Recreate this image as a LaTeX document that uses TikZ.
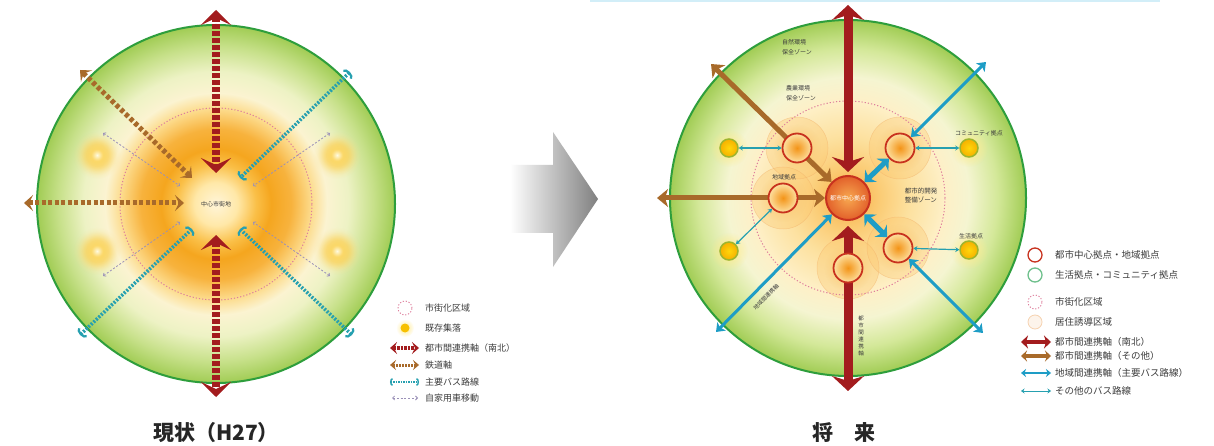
\documentclass[tikz,border=0pt]{standalone}
\usepackage{fontspec}
\newfontfamily\jp{Noto Sans CJK JP}
\usetikzlibrary{arrows.meta,fadings}
\pgfdeclarelayer{bg}
\pgfdeclarelayer{lines}
\pgfsetlayers{bg,lines,main}
\definecolor{gborder}{HTML}{2E9E3C}
\definecolor{axred}{HTML}{A31C1E}
\definecolor{axbrown}{HTML}{A86A2A}
\definecolor{axcyan}{HTML}{1E9DC6}
\definecolor{axteal}{HTML}{26A0B0}
\definecolor{cargray}{HTML}{9A90B8}
\definecolor{pinkdot}{HTML}{DE7E9C}
\definecolor{ringred}{HTML}{C8321E}
\definecolor{commgreen}{HTML}{9DB52E}
\definecolor{txt}{HTML}{3C3C3C}
\definecolor{peach}{HTML}{F6D2B0}
\definecolor{regin}{HTML}{F39418}
\definecolor{regout}{HTML}{FDE0A0}
\definecolor{cin}{HTML}{F7A850}
\definecolor{cout}{HTML}{E2602A}
\definecolor{commin}{HTML}{FFD60A}
\definecolor{commout}{HTML}{F5B000}
\definecolor{regglow}{HTML}{FBC875}
\definecolor{commglow}{HTML}{FFEB8A}
\definecolor{flowerfill}{HTML}{FCC870}
\definecolor{flowerline}{HTML}{F2AE66}
\definecolor{topcyan}{HTML}{D2EEF8}
\pgfdeclareradialshading{leftball}{\pgfpoint{0bp}{0bp}}{rgb(0bp)=(1,0.96,0.85); rgb(3bp)=(1,0.91,0.66); rgb(5.6bp)=(0.98,0.75,0.28); rgb(7.7bp)=(0.96,0.65,0.12); rgb(10.5bp)=(0.97,0.70,0.24); rgb(13.3bp)=(0.99,0.86,0.55); rgb(15.5bp)=(0.985,0.955,0.82); rgb(18.5bp)=(0.93,0.95,0.77); rgb(22bp)=(0.78,0.88,0.54); rgb(25bp)=(0.63,0.80,0.33); rgb(50bp)=(0.63,0.80,0.33)}
\pgfdeclareradialshading{rightball}{\pgfpoint{0bp}{0bp}}{rgb(0bp)=(0.97,0.68,0.27); rgb(4.5bp)=(0.985,0.80,0.46); rgb(8.5bp)=(0.99,0.88,0.62); rgb(13.6bp)=(0.995,0.94,0.78); rgb(17bp)=(0.96,0.96,0.82); rgb(21bp)=(0.83,0.91,0.60); rgb(25bp)=(0.63,0.80,0.33); rgb(50bp)=(0.63,0.80,0.33)}
\pgfdeclareradialshading{ringyel}{\pgfpoint{0bp}{0bp}}{rgb(0bp)=(1,0.98,0.88); rgb(7bp)=(0.99,0.84,0.38); rgb(14bp)=(0.99,0.82,0.34); rgb(25bp)=(0.99,0.9,0.6); rgb(50bp)=(0.99,0.9,0.6)}
\tikzfading[name=glowfade, inner color=transparent!0, outer color=transparent!100]
\tikzset{
  chevR/.tip={Stealth[length=15pt,width=30pt,inset=7pt]},
  chevB/.tip={Stealth[length=9pt,width=16pt,inset=4pt]},
  arcC/.tip={Arc Barb[length=4pt,width=13pt,line width=2.2pt]},
  smallB/.tip={Straight Barb[length=2pt,width=4pt,line width=.8pt]},
  headR/.tip={Stealth[length=15pt,width=32pt,inset=5pt]},
  headB/.tip={Stealth[length=11pt,width=18pt,inset=3pt]},
  headC/.tip={Stealth[length=8pt,width=12pt,inset=2pt]},
  headCC/.tip={Stealth[length=9pt,width=17pt,inset=3pt]},
  headT/.tip={Stealth[length=4pt,width=5pt]},
  lgR/.tip={Stealth[length=7pt,width=12pt,inset=3pt]},
  lgB/.tip={Stealth[length=6pt,width=10pt,inset=2.5pt]},
  lgC/.tip={Arc Barb[length=2.5pt,width=8pt,line width=1.4pt]},
  lgRR/.tip={Stealth[length=7pt,width=13pt,inset=2pt]},
  lgBB/.tip={Stealth[length=6pt,width=11pt,inset=2pt]},
  lgCC/.tip={Stealth[length=5pt,width=8pt,inset=1.5pt]},
  lgTT/.tip={Stealth[length=3.5pt,width=5pt]},
  ball/.style={circle, minimum size=#1, inner sep=0pt, draw=gborder, line width=2pt, shade},
  pinkc/.style={draw=pinkdot, line width=1pt, dash pattern=on 1.2pt off 2pt},
  redL/.style={draw=axred, line width=8pt, dash pattern=on 5pt off 2pt, chevR-chevR},
  brownL/.style={draw=axbrown, line width=5pt, dash pattern=on 4pt off 2.5pt, chevB-chevB},
  cyanL/.style={draw=axteal, line width=3.5pt, dash pattern=on 2pt off 1.5pt, arcC-arcC},
  carL/.style={draw=cargray, line width=.8pt, dash pattern=on 2pt off 1.8pt, smallB-smallB},
  redR/.style={draw=axred, line width=9pt, headR-headR},
  brownR/.style={draw=axbrown, line width=5pt, headB-headB},
  cyanR/.style={draw=axcyan, line width=3pt, headC-headC},
  cyanS/.style={draw=axcyan, line width=5pt, headCC-headCC},
  thinR/.style={draw=axteal, line width=1.2pt, headT-headT},
  regnode/.style={circle, minimum size=29pt, inner sep=0pt, draw=ringred, line width=1.8pt, inner color=regin, outer color=regout},
  cennode/.style={circle, minimum size=44pt, inner sep=0pt, draw=ringred, line width=2pt, inner color=cin, outer color=cout, text=white, font=\jp\fontsize{6}{7}\selectfont},
  commnode/.style={circle, minimum size=18pt, inner sep=0pt, draw=commgreen, line width=1.5pt, inner color=commin, outer color=commout},
  zlbl/.style={text=txt, font=\jp\fontsize{6}{9.5}\selectfont, inner sep=0pt},
  lgtxtL/.style={anchor=west, text=txt, font=\jp\fontsize{9}{10}\selectfont, inner sep=0pt},
  lgtxtR/.style={anchor=west, text=txt, font=\jp\fontsize{9.5}{10}\selectfont, inner sep=0pt},
  ttl/.style={text=black!85, font=\jp\bfseries\fontsize{21}{24}\selectfont, inner sep=0pt},
  lgcirc/.style={circle, minimum size=14pt, inner sep=0pt, line width=1.3pt},
}
\begin{document}
\begin{tikzpicture}[x=1pt,y=-1pt]
\useasboundingbox (0,0) rectangle (1214,446);
% ---------------- background layer ----------------
\begin{pgfonlayer}{bg}
\fill[white] (0,0) rectangle (1214,446);
\draw[topcyan, line width=1.5pt] (590,1) -- (1160,1);
% left disc
\node[ball=358pt, shading=leftball] (Lball) at (216,204) {};
\foreach \p in {(97,155),(337,155),(97,251),(337,251)}{
  \shade[shading=ringyel, path fading=glowfade] \p circle (24pt);
  \shade[shading=ringyel, path fading=glowfade] \p circle (20pt);}
\draw[pinkc] (216,204) circle (96pt);
% transition arrow
\shade[left color=white, right color={rgb,255:red,128;green,128;blue,128}]
  (510,165) -- (553,165) -- (553,132) -- (598,199) -- (553,267) -- (553,233) -- (510,233) -- cycle;
% right disc
\node[ball=356pt, shading=rightball] (Rball) at (848,198) {};
\foreach \p in {(797,148),(900,148),(783,198),(898,248),(848,268)}
  \fill[flowerfill, opacity=.35] \p circle (31pt);
\foreach \p in {(797,148),(900,148),(783,198),(898,248),(848,268)}
  \draw[flowerline, opacity=.45, line width=.5pt] \p circle (31pt);
\draw[pinkc] (848,198) circle (97pt);
\foreach \p in {(797,148),(900,148),(783,198),(898,248),(848,268)}
  \fill[regglow, path fading=glowfade] \p circle (24pt);
\foreach \p in {(729,148),(969,148),(729,251),(969,250)}
  \fill[commglow, path fading=glowfade] \p circle (19pt);
\end{pgfonlayer}

% ---------------- left diagram ----------------
\coordinate (lrt) at (216,10);
\coordinate (lrti) at (216,173);
\coordinate (lrbi) at (216,235);
\coordinate (lrb) at (216,397);
\coordinate (lbo1) at (80,70);
\coordinate (lbi1) at (192,178);
\coordinate (lbo2) at (24,203);
\coordinate (lbi2) at (184,203);
\coordinate (lco1) at (350,72);
\coordinate (lci1) at (240,178);
\coordinate (lco2) at (80,335);
\coordinate (lci2) at (192,229);
\coordinate (lco3) at (352,335);
\coordinate (lci3) at (240,229);
\coordinate (lg1) at (103,133);
\coordinate (lg1i) at (180,186);
\coordinate (lg2) at (330,133);
\coordinate (lg2i) at (253,186);
\coordinate (lg3) at (103,276);
\coordinate (lg3i) at (180,222);
\coordinate (lg4) at (330,276);
\coordinate (lg4i) at (253,222);
\node[zlbl] (lcenter) at (216,204) {中心市街地};

\begin{pgfonlayer}{lines}
\draw[carL] (lg1) -- (lg1i);
\draw[carL] (lg2) -- (lg2i);
\draw[carL] (lg3) -- (lg3i);
\draw[carL] (lg4) -- (lg4i);
\draw[cyanL] (lco1) -- (lci1);
\draw[cyanL] (lco2) -- (lci2);
\draw[cyanL] (lco3) -- (lci3);
\draw[brownL] (lbo1) -- (lbi1);
\draw[brownL] (lbo2) -- (lbi2);
\draw[redL] (lrt) -- (lrti);
\draw[redL] (lrbi) -- (lrb);
\end{pgfonlayer}

% left legend
\node[lgcirc, draw=pinkdot, line width=.9pt, dash pattern=on 1.2pt off 1.8pt] (ll1) at (405,308) {};
\node[lgtxtL] (llt1) at (425,308) {市街化区域};
\fill[commglow, path fading=glowfade] (405,328) circle (9pt);
\node[circle, minimum size=9pt, inner sep=0pt, fill=commout!80!yellow] (ll2) at (405,328) {};
\node[lgtxtL] (llt2) at (425,328) {既存集落};
\coordinate (ll3a) at (390,348); \coordinate (ll3b) at (419,348);
\draw[draw=axred, line width=4pt, dash pattern=on 2.5pt off 1pt, lgR-lgR] (ll3a) -- (ll3b);
\node[lgtxtL] (llt3) at (425,348) {都市間連携軸（南北）};
\coordinate (ll4a) at (390,365); \coordinate (ll4b) at (419,365);
\draw[draw=axbrown, line width=3pt, dash pattern=on 2pt off 1pt, lgB-lgB] (ll4a) -- (ll4b);
\node[lgtxtL] (llt4) at (425,365) {鉄道軸};
\coordinate (ll5a) at (390,382); \coordinate (ll5b) at (419,382);
\draw[draw=axteal, line width=2.2pt, dash pattern=on 1.5pt off 1pt, lgC-lgC] (ll5a) -- (ll5b);
\node[lgtxtL] (llt5) at (425,382) {主要バス路線};
\coordinate (ll6a) at (392,398); \coordinate (ll6b) at (418,398);
\draw[carL] (ll6a) -- (ll6b);
\node[lgtxtL] (llt6) at (425,398) {自家用車移動};

\node[ttl] (title1) at (216,433) {現状（H27）};

% ---------------- right diagram ----------------
\node[regnode] (nUL) at (797,148) {};
\node[regnode] (nUR) at (900,148) {};
\node[regnode] (nL) at (783,198) {};
\node[regnode] (nLR) at (898,248) {};
\node[regnode] (nB) at (848,268) {};
\node[cennode] (nC) at (848,198) {都市中心拠点};
\node[commnode] (cUL) at (729,148) {};
\node[commnode] (cUR) at (969,148) {};
\node[commnode] (cLL) at (729,251) {};
\node[commnode] (cLR) at (969,250) {};

\coordinate (rrt) at (848,5);
\coordinate (rrti) at (848,172);
\coordinate (rrbi) at (848,226);
\coordinate (rrb) at (848,391);
\coordinate (rbo1) at (711,64);
\coordinate (rbo2) at (657,198);
\coordinate (rco1) at (986,62);
\coordinate (rco2) at (716,332);
\coordinate (rco3) at (983,333);

\begin{pgfonlayer}{lines}
\draw[thinR] (nUL) -- (cUL);
\draw[thinR] (nUR) -- (cUR);
\draw[thinR] (nL) -- (cLL);
\draw[thinR] (nLR) -- (cLR);
\draw[cyanR] (rco1) -- (nUR);
\draw[cyanR] (rco2) -- (nC);
\draw[cyanR] (rco3) -- (nLR);
\draw[cyanS] (nC) -- (nUR);
\draw[cyanS] (nC) -- (nLR);
\draw[brownR] (rbo1) -- (nC);
\draw[brownR] (rbo2) -- (nC);
\draw[redR] (rrt) -- (rrti);
\draw[redR] (rrbi) -- (rrb);
\end{pgfonlayer}

\node[zlbl, align=left] (z1) at (797,47) {自然環境\\保全ゾーン};
\node[zlbl, align=left] (z2) at (801,93) {農業環境\\保全ゾーン};
\node[zlbl] (z3) at (784,177) {地域拠点};
\node[zlbl, align=left, font=\jp\fontsize{6.5}{9}\selectfont] (z4) at (921,196) {都市的開発\\整備ゾーン};
\node[zlbl] (z5) at (979,133) {コミュニティ拠点};
\node[zlbl] (z6) at (971,236) {生活拠点};
\node[zlbl, rotate=45, font=\jp\fontsize{5.5}{7}\selectfont] (z7) at (766,297) {地域間連携軸};
\node[zlbl, align=center, font=\jp\fontsize{5.5}{7}\selectfont] (z8) at (861,336) {都\\市\\間\\連\\携\\軸};

% right legend
\node[lgcirc, draw=ringred, fill=white] (rl1) at (1035,255) {};
\node[lgtxtR] (rlt1) at (1055,255) {都市中心拠点・地域拠点};
\node[lgcirc, draw={rgb,255:red,110;green,192;blue,140}, fill=white] (rl2) at (1035,275) {};
\node[lgtxtR] (rlt2) at (1055,275) {生活拠点・コミュニティ拠点};
\node[lgcirc, draw=pinkdot, line width=.9pt, dash pattern=on 1.2pt off 1.8pt] (rl3) at (1035,302) {};
\node[lgtxtR] (rlt3) at (1055,302) {市街化区域};
\node[lgcirc, draw=peach, line width=.8pt, fill=peach!25] (rl4) at (1035,322) {};
\node[lgtxtR] (rlt4) at (1055,322) {居住誘導区域};
\coordinate (rl5a) at (1021,342); \coordinate (rl5b) at (1051,342);
\draw[draw=axred, line width=4pt, lgRR-lgRR] (rl5a) -- (rl5b);
\node[lgtxtR] (rlt5) at (1055,342) {都市間連携軸（南北）};
\coordinate (rl6a) at (1021,356); \coordinate (rl6b) at (1051,356);
\draw[draw=axbrown, line width=3.5pt, lgBB-lgBB] (rl6a) -- (rl6b);
\node[lgtxtR] (rlt6) at (1055,356) {都市間連携軸（その他）};
\coordinate (rl7a) at (1021,373); \coordinate (rl7b) at (1051,373);
\draw[draw=axcyan, line width=2.5pt, lgCC-lgCC] (rl7a) -- (rl7b);
\node[lgtxtR] (rlt7) at (1055,373) {地域間連携軸（主要バス路線）};
\coordinate (rl8a) at (1021,391); \coordinate (rl8b) at (1051,391);
\draw[draw=axteal, line width=1pt, lgTT-lgTT] (rl8a) -- (rl8b);
\node[lgtxtR] (rlt8) at (1055,391) {その他のバス路線};

\node[ttl] (title2) at (844,433) {将　来};
\end{tikzpicture}
\end{document}
